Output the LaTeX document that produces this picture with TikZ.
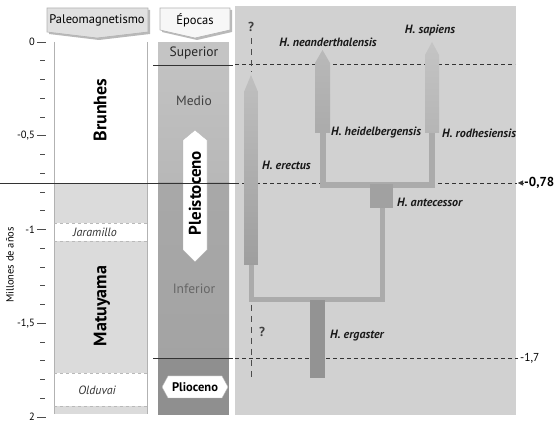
\documentclass[tikz,border=0pt]{standalone}
\usepackage{fontspec}
\setmainfont{PT Sans}
\usetikzlibrary{arrows.meta, positioning}

\begin{document}
\begin{tikzpicture}[x=1pt, y=-1pt,
    banner/.style={draw=gray!60, line width=0.6pt},
    headtext/.style={font=\fontsize{12.5}{14}\selectfont, inner sep=0pt},
    axistext/.style={font=\fontsize{10.5}{12}\selectfont, inner sep=1pt},
    epochtext/.style={font=\fontsize{13.5}{15}\selectfont, text=black!75, inner sep=0pt},
    chron/.style={font=\bfseries\fontsize{18}{20}\selectfont, rotate=90, inner sep=0pt},
    subchron/.style={font=\itshape\fontsize{12}{14}\selectfont, text=black!80},
    species/.style={font=\bfseries\itshape\fontsize{12}{14}\selectfont, inner sep=1pt, text=black!90},
    guide/.style={dashed, dash pattern=on 4pt off 3pt, line width=0.7pt, black!80},
    stem/.style={line width=5pt, draw=gray!66},
    qmark/.style={dashed, dash pattern=on 6pt off 5pt, line width=0.8pt, black!70},
  ]
  \useasboundingbox (0,0) rectangle (560,427);

  % Headers
  \fill[gray!55] (49,10) -- (150,10) -- (150,34) -- (99,40) -- (49,34) -- cycle;
  \filldraw[banner, fill=gray!24] (47,8) -- (148,8) -- (148,32) -- (97,38) -- (47,32) -- cycle;
  \node[headtext] (paleo) at (97,20) {Paleomagnetismo};
  \fill[gray!55] (162,10) -- (232,10) -- (232,32) -- (197,40) -- (162,32) -- cycle;
  \filldraw[banner, fill=gray!6] (160,8) -- (230,8) -- (230,30) -- (195,38) -- (160,30) -- cycle;
  \node[headtext] (epocas) at (195,20) {Épocas};

  % Time axis
  \foreach \t in {0,1,...,20}
    \draw[black!70, line width=0.6pt] (40,{42+18.75*\t}) -- (45,{42+18.75*\t});
  \foreach \t/\lab in {0/0, 5/{-0,5}, 10/-1, 15/{-1,5}, 20/2} {
    \draw[black!70, line width=0.6pt] (37,{42+18.75*\t}) -- (46,{42+18.75*\t});
    \node[axistext, anchor=east] (tick\t) at (36,{42+18.75*\t}) {\lab};
  }
  \node[font=\fontsize{10.5}{12}\selectfont, rotate=90] (yaxis) at (10,265) {Millones de años};

  % Paleomagnetism column
  \fill[gray!28] (54,183) rectangle (147,223);
  \fill[gray!28] (54,241) rectangle (147,373);
  \fill[gray!28] (54,406) rectangle (147,414);
  \draw[gray!60] (54,42) -- (54,414) (147,42) -- (147,414);
  \draw[gray!55, dashed, line width=0.8pt] (54,223) -- (147,223) (54,241) -- (147,241)
    (54,373) -- (147,373) (54,406) -- (147,406);
  \node[chron] (brunhes) at (100,110) {Brunhes};
  \node[chron] (matuyama) at (102,306) {Matuyama};
  \node[subchron] (jaramillo) at (95,232) {Jaramillo};
  \node[subchron] (olduvai) at (97,390) {Olduvai};

  % Epochs column
  \fill[gray!46] (158,42) rectangle (229,65);
  \shade[top color=gray!48, bottom color=gray!56] (158,65) rectangle (229,183);
  \shade[top color=gray!68, bottom color=gray!72] (158,183) rectangle (229,358);
  \fill[gray!88] (158,358) rectangle (229,415);
  \draw[black!80, line width=0.8pt] (153,65) -- (233,65) (153,358) -- (233,358);
  \node[epochtext, text=black!85] (superior) at (194,53) {Superior};
  \node[epochtext] (medio) at (194,101) {Medio};
  \node[epochtext, text=black!60] (inferior) at (194,289) {Inferior};
  \filldraw[fill=white, draw=gray!60] (183,140) -- (195,130) -- (207,140) -- (207,250)
    -- (195,262) -- (183,250) -- cycle;
  \node[chron, font=\bfseries\fontsize{17}{19}\selectfont] (pleisto) at (195,193) {Pleistoceno};
  \filldraw[fill=white, draw=gray!60] (162,387) -- (168,376) -- (222,376) -- (228,387)
    -- (222,398) -- (168,398) -- cycle;
  \node[font=\bfseries\fontsize{12.5}{14}\selectfont, inner sep=0pt] (plio) at (195,387) {Plioceno};

  % -0,78 line across the left columns
  \draw[black!80, line width=0.9pt] (0,183) -- (236,183);

  % Tree panel
  \fill[gray!36] (235,6) rectangle (516,415);
  \coordinate (g1w) at (235,64);  \coordinate (g1e) at (515,64);
  \coordinate (g2w) at (235,183); \coordinate (g2e) at (517,183);
  \coordinate (g3w) at (235,358); \coordinate (g3e) at (518,358);
  \draw[guide] (g1w) -- (g1e);
  \draw[guide] (g2w) -- (g2e);
  \draw[guide] (g3w) -- (g3e);

  % Stems
  \coordinate (erB) at (251,265);
  \coordinate (erJ) at (251,300);
  \coordinate (anJ) at (382,300);
  \coordinate (anB) at (382,208);
  \draw[stem] (erB) -- (erJ) -- (anJ) -- (anB);
  \coordinate (neB) at (322.5,133);
  \coordinate (neJ) at (322.5,185.5);
  \coordinate (saJ) at (432,185.5);
  \coordinate (saB) at (432,133);
  \draw[stem, line width=6pt] (neB) -- (neJ) -- (saJ) -- (saB);

  % Lineages
  \shade[top color=gray!50, bottom color=gray!76] (244,92) -- (251,75) -- (258,92)
    -- (258,265) -- (244,265) -- cycle;
  \shade[top color=gray!55, bottom color=gray!66] (315,63) -- (322.5,50) -- (330,63)
    -- (330,133) -- (315,133) -- cycle;
  \shade[top color=gray!46, bottom color=gray!58] (425,55) -- (432,42) -- (439,55)
    -- (439,133) -- (425,133) -- cycle;
  \fill[gray!74] (370,184) rectangle (393,208);
  \fill[gray!85] (310,300) rectangle (325,378);

  % Question marks
  \node[font=\bfseries\fontsize{13}{15}\selectfont, text=black!75] (q1) at (251,27) {?};
  \node[font=\bfseries\fontsize{13}{15}\selectfont, text=black!75] (q2) at (262,332) {?};
  \draw[qmark] (q1.south) ++(0,3) -- (251,72);
  \draw[qmark] (erJ) ++(0,5) -- (251,380);

  % Species labels
  \node[species] (nean) at (328,42) {H. neanderthalensis};
  \node[species] (sap) at (430,30) {H. sapiens};
  \node[species, anchor=west] (heid) at (330,133) {H. heidelbergensis};
  \node[species, anchor=west] (rodh) at (441,133) {H. rodhesiensis};
  \node[species, anchor=west] (erec) at (261,165) {H. erectus};
  \node[species, anchor=west] (ante) at (396,202) {H. antecessor};
  \node[species, anchor=west] (erga) at (329,336) {H. ergaster};

  % Right labels
  \node[font=\bfseries\fontsize{13}{15}\selectfont, anchor=west, inner sep=1pt] (m078) at (523,183) {-0,78};
  \draw[-{Triangle[width=5pt, length=5pt]}, black!80] (m078.west) -- ++(-5,0);
  \node[font=\fontsize{11.5}{13}\selectfont, anchor=west, inner sep=1pt] (m17) at (519,358) {-1,7};
\end{tikzpicture}
\end{document}
